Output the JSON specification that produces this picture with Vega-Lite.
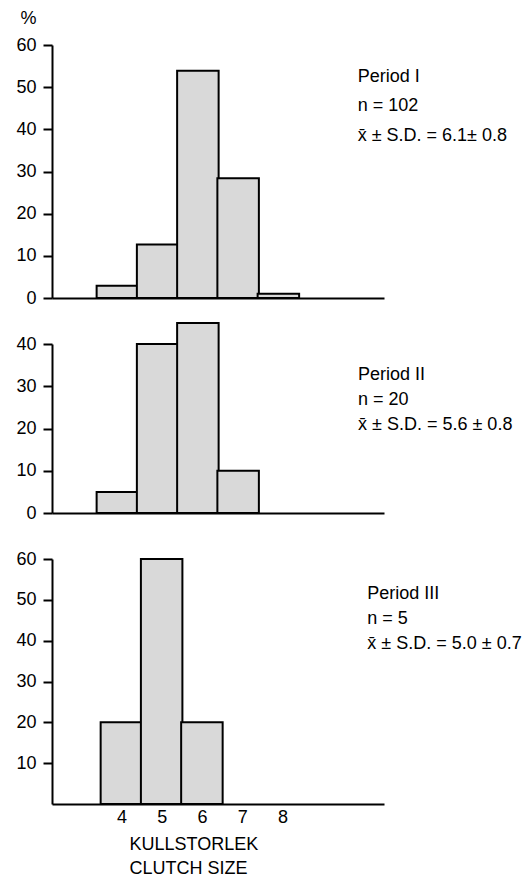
{
  "$schema": "https://vega.github.io/schema/vega-lite/v6.json",
  "background": "white",
  "padding": {"left": 15, "top": 9, "right": 0, "bottom": 0},
  "datasets": {
    "clutch": [
      {"period": "I", "size": 4, "pct": 2.9},
      {"period": "I", "size": 5, "pct": 12.7},
      {"period": "I", "size": 6, "pct": 53.9},
      {"period": "I", "size": 7, "pct": 28.4},
      {"period": "I", "size": 8, "pct": 1.0},
      {"period": "II", "size": 4, "pct": 5},
      {"period": "II", "size": 5, "pct": 40},
      {"period": "II", "size": 6, "pct": 45},
      {"period": "II", "size": 7, "pct": 10},
      {"period": "III", "size": 4, "pct": 20},
      {"period": "III", "size": 5, "pct": 60},
      {"period": "III", "size": 6, "pct": 20}
    ]
  },
  "config": {
    "view": {"stroke": null},
    "font": "Liberation Sans",
    "axis": {
      "grid": false,
      "domainColor": "black",
      "domainWidth": 2,
      "tickColor": "black",
      "tickWidth": 2,
      "tickSize": 9,
      "labelColor": "black",
      "labelFontSize": 18,
      "labelFont": "Liberation Sans",
      "labelPadding": 7,
      "titleColor": "black",
      "titleFont": "Liberation Sans",
      "titleFontWeight": "normal",
      "titleFontSize": 18
    },
    "bar": {"fill": "#d9d9d9", "stroke": "black", "strokeWidth": 2},
    "text": {"font": "Liberation Sans", "fontSize": 18, "color": "black", "align": "left", "baseline": "alphabetic"}
  },
  "bounds": "flush",
  "spacing": 46,
  "vconcat": [
    {
      "width": 332,
      "height": 253,
      "layer": [
        {
          "data": {"name": "clutch"},
          "transform": [{"filter": "datum.period === 'I'"}],
          "mark": {"type": "bar", "width": 41.5},
          "encoding": {
            "x": {"field": "size", "type": "quantitative", "scale": {"domain": [2.5, 10.5], "nice": false, "zero": false}, "axis": {"title": null, "labels": false, "ticks": false}},
            "y": {"field": "pct", "type": "quantitative", "scale": {"domain": [0, 60], "nice": false}, "axis": {"values": [0, 10, 20, 30, 40, 50, 60], "title": "%", "titleAngle": 0, "titleX": -24, "titleY": -27, "titleAlign": "center", "titleBaseline": "middle"}}
          }
        },
        {
          "data": {"values": [{}]},
          "mark": {"type": "text", "text": ["Period I", "n = 102", "x̄ ± S.D. = 6.1± 0.8"], "lineHeight": 29.5},
          "encoding": {
            "x": {"datum": 9.97, "type": "quantitative"},
            "y": {"datum": 51.3, "type": "quantitative"}
          }
        }
      ]
    },
    {
      "width": 332,
      "height": 169,
      "layer": [
        {
          "data": {"name": "clutch"},
          "transform": [{"filter": "datum.period === 'II'"}],
          "mark": {"type": "bar", "width": 41.5},
          "encoding": {
            "x": {"field": "size", "type": "quantitative", "scale": {"domain": [2.5, 10.5], "nice": false, "zero": false}, "axis": {"title": null, "labels": false, "ticks": false}},
            "y": {"field": "pct", "type": "quantitative", "scale": {"domain": [0, 40], "nice": false}, "axis": {"values": [0, 10, 20, 30, 40], "title": null}}
          }
        },
        {
          "data": {"values": [{}]},
          "mark": {"type": "text", "text": ["Period II", "n = 20", "x̄ ± S.D. = 5.6 ± 0.8"], "lineHeight": 25},
          "encoding": {
            "x": {"datum": 9.98, "type": "quantitative"},
            "y": {"datum": 31.5, "type": "quantitative"}
          }
        }
      ]
    },
    {
      "width": 332,
      "height": 245,
      "layer": [
        {
          "data": {"name": "clutch"},
          "transform": [{"filter": "datum.period === 'III'"}],
          "mark": {"type": "bar", "width": 41.5},
          "encoding": {
            "x": {"field": "size", "type": "quantitative", "scale": {"domain": [2.4, 10.4], "nice": false, "zero": false}, "axis": {"values": [4, 5, 6, 7, 8], "ticks": false, "labelPadding": 4, "title": ["KULLSTORLEK", "CLUTCH SIZE"], "titleLineHeight": 24, "titleAlign": "left", "titleX": 77, "titlePadding": 9}},
            "y": {"field": "pct", "type": "quantitative", "scale": {"domain": [0, 60], "nice": false}, "axis": {"values": [10, 20, 30, 40, 50, 60], "title": null}}
          }
        },
        {
          "data": {"values": [{}]},
          "mark": {"type": "text", "text": ["Period III", "n = 5", "x̄ ± S.D. = 5.0 ± 0.7"], "lineHeight": 25},
          "encoding": {
            "x": {"datum": 10.11, "type": "quantitative"},
            "y": {"datum": 50.2, "type": "quantitative"}
          }
        }
      ]
    }
  ]
}
